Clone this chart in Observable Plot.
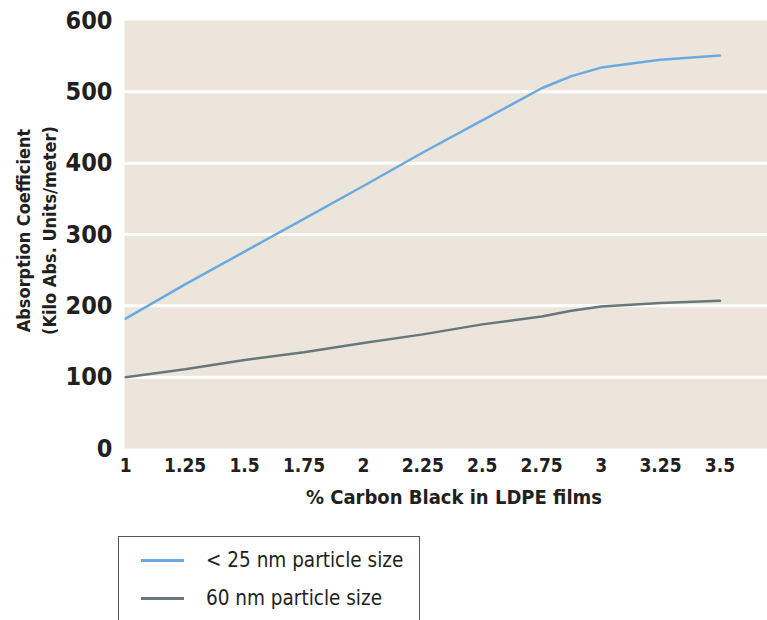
<!DOCTYPE html>
<html>
<head>
<meta charset="utf-8">
<script src="https://cdn.jsdelivr.net/npm/d3@7"></script>
<script src="https://cdn.jsdelivr.net/npm/@observablehq/plot@0.6"></script>
<style>
  html, body { margin: 0; padding: 0; background: #fff; }
  body { width: 767px; height: 620px; overflow: hidden; font-family: "DejaVu Sans Condensed", "Liberation Sans", sans-serif; }
  #chart svg text { font-weight: bold; }
  .legend { position: absolute; left: 118px; top: 536px; width: 302px; height: 120px; border: 1px solid #555; box-sizing: border-box; color: #231f20; font-size: 20.5px; }
  .legend .row { position: absolute; left: 0; display: flex; align-items: center; height: 30px; }
  .legend .sw { width: 43px; height: 3px; margin-left: 22px; margin-right: 22px; }
</style>
</head>
<body>
<div id="chart"></div>
<div class="legend" id="legend"></div>
<script>
const carbonBlack = [1, 1.25, 1.5, 1.75, 2, 2.25, 2.5, 2.75, 2.875, 3, 3.25, 3.5];
const small25nm = [182, 230, 276, 322, 368, 415, 460, 505, 522, 534, 545, 551];
const size60nm = [100, 111, 124, 135, 148, 160, 174, 185, 193, 199, 204, 207];
const xTicks = [1, 1.25, 1.5, 1.75, 2, 2.25, 2.5, 2.75, 3, 3.25, 3.5];
const yTicks = [0, 100, 200, 300, 400, 500, 600];
const seriesNames = ["< 25 nm particle size", "60 nm particle size"];
const seriesColors = ["#6aaae0", "#68777c"];
const xTitle = "% Carbon Black in LDPE films";
const yTitle = "Absorption Coefficient\n(Kilo Abs. Units/meter)";

const data = [];
carbonBlack.forEach((c, i) => {
  data.push({x: c, y: small25nm[i], s: seriesNames[0]});
  data.push({x: c, y: size60nm[i], s: seriesNames[1]});
});

const chart = Plot.plot({
  width: 767,
  height: 520,
  marginLeft: 124,
  marginRight: 0,
  marginTop: 20,
  marginBottom: 72,
  style: {fontFamily: "'DejaVu Sans Condensed', sans-serif", color: "#231f20", background: "#fff"},
  x: {domain: [0.995, 3.7]},
  y: {domain: [0, 600]},
  color: {domain: seriesNames, range: seriesColors},
  marks: [
    Plot.frame({fill: "#ebe5db", stroke: null}),
    Plot.gridY([100, 200, 300, 400, 500], {stroke: "#fff", strokeOpacity: 1, strokeWidth: 3}),
    Plot.axisX(xTicks, {tickSize: 0, tickPadding: 10, fontSize: 19, tickFormat: d => String(d), label: null}),
    Plot.axisY(yTicks, {tickSize: 0, tickPadding: 12, fontSize: 25, label: null}),
    Plot.line(data, {x: "x", y: "y", z: "s", stroke: "s", strokeWidth: 2.5, curve: "linear"}),
    Plot.text([xTitle], {frameAnchor: "bottom", dy: 55, fontSize: 20, text: d => d, dx: 8}),
    Plot.text([yTitle], {frameAnchor: "left", textAnchor: "middle", rotate: -90, dx: -90, dy: -4, fontSize: 18, lineHeight: 1.45, text: d => d})
  ]
});
document.getElementById("chart").appendChild(chart);

const legend = document.getElementById("legend");
seriesNames.forEach((name, i) => {
  const row = document.createElement("div");
  row.className = "row";
  row.style.top = (8 + i * 38) + "px";
  const sw = document.createElement("div");
  sw.className = "sw";
  sw.style.background = seriesColors[i];
  const label = document.createElement("span");
  label.textContent = name;
  row.appendChild(sw);
  row.appendChild(label);
  legend.appendChild(row);
});
</script>
</body>
</html>
